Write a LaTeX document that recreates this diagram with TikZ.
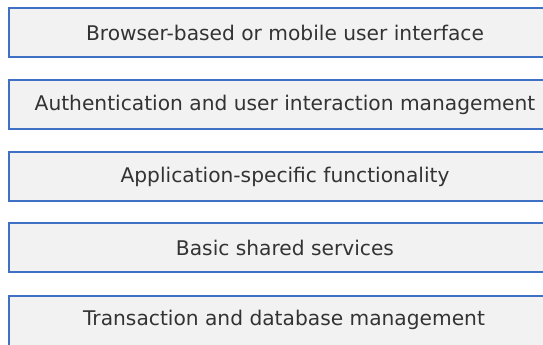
\documentclass[tikz,border=0pt]{standalone}
\usepackage{fontspec}
\setmainfont{DejaVu Sans}
\definecolor{layerfill}{HTML}{F2F2F2}
\definecolor{layerline}{HTML}{3E70C6}
\definecolor{layertext}{HTML}{333333}
\tikzset{
  layer/.style={draw=layerline, line width=2pt, fill=layerfill,
    minimum width=552pt, minimum height=49pt, inner sep=0pt,
    anchor=north west, text=layertext, font=\fontsize{20.2}{24}\selectfont}
}
\begin{document}
\begin{tikzpicture}[x=1pt, y=-1pt]
  \useasboundingbox (0,0) rectangle (543,345);
  \clip (0,0) rectangle (543,345);
  \node[layer] (ui)   at (8,7)   {Browser-based or mobile user interface};
  \node[layer] (auth) at (8,79)  {Authentication and user interaction management};
  \node[layer] (app)  at (8,151) {Application-specific functionality};
  \node[layer] (svc)  at (8,222) {Basic shared services};
  \node[layer, minimum height=60pt] (db) at (8,295) {};
  \node[text=layertext, font=\fontsize{20.2}{24}\selectfont] (dbtext) at (284,320) {Transaction and database management};
\end{tikzpicture}
\end{document}
